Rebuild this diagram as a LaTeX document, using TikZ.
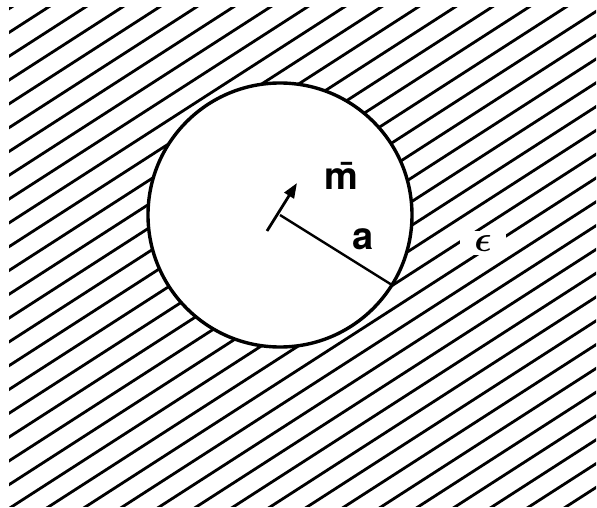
\documentclass[tikz,border=0pt]{standalone}
\usepackage{amsmath,amssymb,bm}
\usepackage{fontspec}
\setsansfont{TeX Gyre Heros}
\usepackage{tikz}
\usetikzlibrary{arrows.meta,calc}

\begin{document}
\begin{tikzpicture}[
    x=1pt, y=-1pt,
    hatch/.style={line width=2.8pt, line cap=round},
    lbl/.style={font=\sffamily\bfseries, scale=3.8, inner sep=0pt},
    >={Triangle[length=15pt,width=11pt]}
]
\useasboundingbox (0,0) rectangle (597,508);

% --- Hatched medium ---
\begin{scope}
    \clip (9,8) rectangle (596,506);
    \foreach \k in {0,...,38} {
        \pgfmathsetmacro{\c}{14.5+23.8*\k}
        \draw[hatch] (0,\c) -- (1400,{\c-0.644*1400});
    }
\end{scope}

% --- Spherical hole ---
\node[circle, draw, line width=3.4pt, fill=white, minimum size=264pt] (hole) at (280,215) {};
\coordinate (ctr) at (280,215);
\draw[line width=2.4pt] (ctr) -- (hole.-32);

% moment arrow
\coordinate (mtail) at (267,231);
\coordinate (mtip) at (297,183);
\draw[->, line width=2.8pt] (mtail) -- (mtip);

% Labels
\node[lbl] (mlbl) at (341,176) {\=m};
\node[lbl] (albl) at (363,239) {a};
\node[fill=white, inner xsep=4pt, inner ysep=1pt, scale=3.6] (eps) at (483,243) {$\bm{\epsilon}$};

\end{tikzpicture}
\end{document}
